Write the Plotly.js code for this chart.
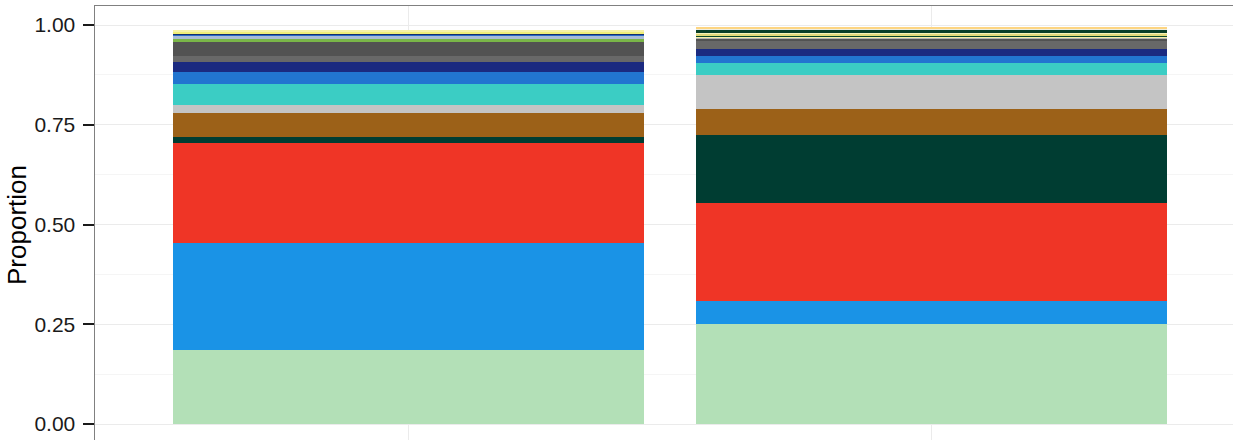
<!DOCTYPE html>
<html>
<head>
<meta charset="utf-8">
<script src="https://cdn.plot.ly/plotly-3.0.1.min.js"></script>
<style>
html,body{margin:0;padding:0;overflow:hidden;background:#fff;}
#chart{width:1250px;height:490px;}
</style>
</head>
<body>
<div id="chart"></div>
<script>
// Categories (x-axis labels are outside the visible frame)
const categories = ["Sample 1", "Sample 2"];

// Stack series, bottom to top: names, colours, values per category
const seriesNames = [
  "Group 01","Group 02","Group 03","Group 04","Group 05","Group 06","Group 07",
  "Group 08","Group 09","Group 10","Group 11","Group 12","Group 13","Group 14",
  "Group 15","Group 16","Group 17","Group 18","Group 19","Group 20","Group 21",
  "Group 22","Group 23","Group 24","Group 25","Group 26"
];
const seriesColors = [
  "#b3e0b7","#1a93e6","#ef3526","#003d32","#9c6118","#c4c4c4","#3bcdc4",
  "#2275d0","#1b2a80","#686868","#525252","#b4b4b4","#7ab648","#a9bcd6",
  "#111111","#2a6cc8","#15306e","#f6f0a6","#0d4a2c","#e3d97a","#f7f3b8",
  "#0a3f28","#f0ee78","#f6f2a8","#eeeee2","#fdd582"
];
const series1 = [
  0.1855,0.268,0.2506,0.015,0.060,0.020,0.0526,
  0.030,0.025,0.015,0.035,0.0,0.0075,0.0075,
  0.0,0.0025,0.004,0.0,0.0,0.0,0.0,
  0.0,0.005,0.004,0.0015,0.0
];
const series2 = [
  0.2506,0.0576,0.2456,0.1704,0.0652,0.0852,0.030,
  0.0175,0.0175,0.021,0.0035,0.0025,0.0,0.0,
  0.0015,0.0,0.0,0.0025,0.0025,0.005,0.0025,
  0.0068,0.0,0.0,0.0025,0.005
];

const traces = seriesNames.map((name, i) => ({
  type: "bar",
  name: name,
  x: categories,
  y: [series1[i], series2[i]],
  marker: {color: seriesColors[i], line: {width: 0}},
  hoverinfo: "x+y+name"
}));

const layout = {
  width: 1250,
  height: 490,
  margin: {l: 95, r: 5, t: 6, b: 46},
  barmode: "stack",
  bargap: 0.1,
  showlegend: false,
  paper_bgcolor: "#ffffff",
  plot_bgcolor: "#ffffff",
  font: {family: "Liberation Sans, Arial, sans-serif", color: "#1a1a1a"},
  xaxis: {
    type: "category",
    range: [-0.6, 1.6],
    showgrid: true,
    gridcolor: "#ebebeb",
    gridwidth: 1,
    showline: true,
    mirror: true,
    linecolor: "#808080",
    linewidth: 1.5,
    ticks: "",
    showticklabels: false,
    zeroline: false
  },
  yaxis: {
    range: [-0.0499, 1.0476],
    tickvals: [0, 0.25, 0.5, 0.75, 1],
    ticktext: ["0.00", "0.25", "0.50", "0.75", "1.00"],
    showgrid: true,
    gridcolor: "#ebebeb",
    gridwidth: 1,
    minor: {dtick: 0.125, tick0: 0.125, showgrid: true, gridcolor: "#f5f5f5", gridwidth: 1, ticks: ""},
    showline: true,
    mirror: true,
    linecolor: "#808080",
    linewidth: 1.5,
    ticks: "outside",
    ticklen: 11,
    tickwidth: 2,
    tickcolor: "#1a1a1a",
    ticklabelstandoff: 3,
    tickfont: {size: 21, color: "#1a1a1a"},
    zeroline: false,
    title: {text: "Proportion", font: {size: 26, color: "#000000"}, standoff: 0}
  }
};

Plotly.newPlot("chart", traces, layout, {displayModeBar: false, staticPlot: true});
</script>
</body>
</html>
